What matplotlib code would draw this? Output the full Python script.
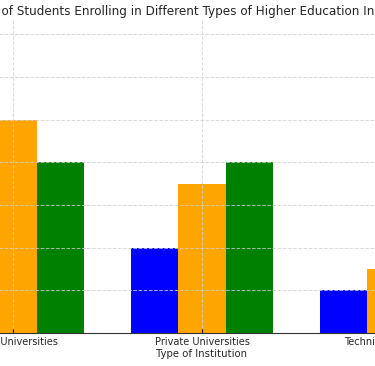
import matplotlib
matplotlib.use("Agg")
import matplotlib.pyplot as plt
import numpy as np

categories = ["Public Universities", "Private Universities", "Technical Institutes"]
series_names = ["Group A", "Group B", "Group C"]
series_a = [70, 20, 10]
series_b = [50, 35, 15]
series_c = [40, 40, 20]
colors = ["blue", "orange", "green"]
title_prefix = "Percentage "
title_rest = "of Students Enrolling in Different Types of Higher Education Institutions"

W, H = 375, 366
fig = plt.figure(figsize=(W / 100, H / 100), dpi=100)
# axes extends beyond the visible figure (reference is a crop)
left_px, right_px = -83.9, 487.9
bottom_px, top_px = 33, 366 - 19.2
ax = fig.add_axes([left_px / W, bottom_px / H, (right_px - left_px) / W, (top_px - bottom_px) / H])

x = np.arange(len(categories))
width = 0.25
for i, (vals, name, c) in enumerate(zip([series_a, series_b, series_c], series_names, colors)):
    ax.bar(x + (i - 1) * width, vals, width, label=name, color=c)

ax.set_xticks(x)
ax.set_xticklabels(categories, fontsize=7.0, color="#262626")
ax.set_xlabel("Type of Institution", fontsize=7.3, color="#262626", labelpad=1.5)
ax.set_ylabel("Percentage of Students (%)")
ax.grid(True, linestyle="--", color="#d0d0d0", linewidth=0.7, alpha=0.8)
ax.tick_params(axis="x", direction="in", length=3, pad=3)
for s in ["top", "right", "left"]:
    ax.spines[s].set_visible(False)
ax.spines["bottom"].set_color("#333333")

# title: place so that the visible part starts near the left edge like the reference
fs = 8.62
renderer = fig.canvas.get_renderer()
probe = fig.text(0, 0, title_prefix.strip(), fontsize=fs)
pw = probe.get_window_extent(renderer).width
probe.remove()
probe2 = fig.text(0, 0, "a a", fontsize=fs)
p3 = fig.text(0, 0, "aa", fontsize=fs)
space_w = probe2.get_window_extent(renderer).width - p3.get_window_extent(renderer).width
probe2.remove(); p3.remove()
start_px = 2 - (pw + space_w)
fig.text(start_px / W, 1 - 11.5 / H, title_prefix + title_rest, fontsize=fs, color="#262626",
         ha="left", va="center")

fig.savefig("out.png", dpi=100)
